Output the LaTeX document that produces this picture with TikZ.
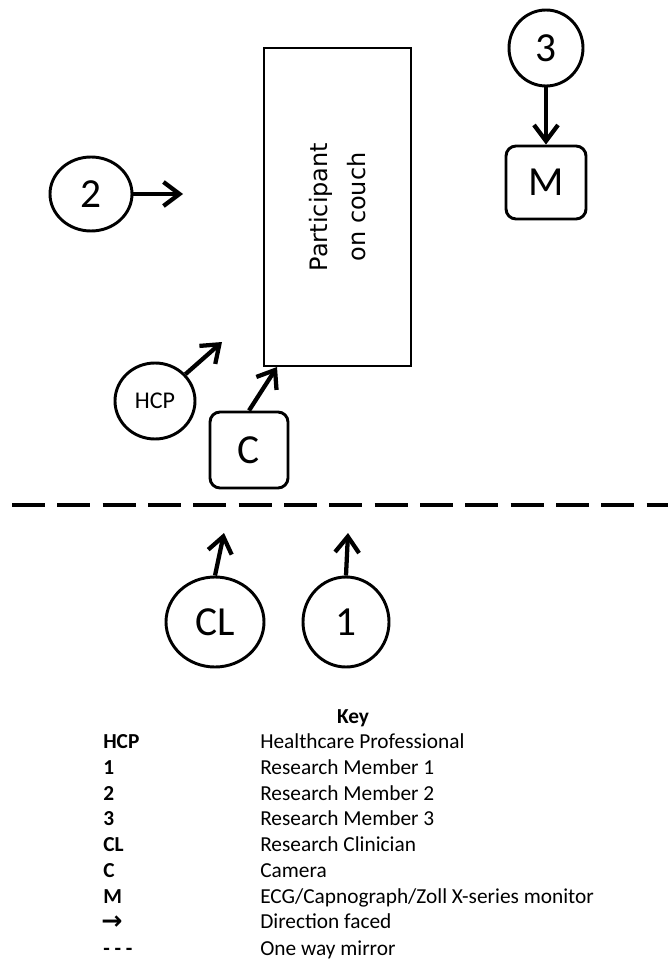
\documentclass[tikz,border=0pt]{standalone}
\usepackage{fontspec}
\setmainfont{Carlito}
\newfontfamily\dejavu{DejaVu Sans}
\usetikzlibrary{arrows.meta,shapes.geometric}
\begin{document}
\begin{tikzpicture}[x=0.75pt,y=-0.75pt,
  person/.style={ellipse,draw,line width=2.2pt,inner sep=0pt,font=\fontsize{31}{33}\selectfont},
  monbox/.style={rectangle,draw,line width=2.2pt,rounded corners=7.5pt,inner sep=0pt,font=\fontsize{31}{33}\selectfont},
  face/.style={line width=3.2pt,-{Straight Barb[length=12pt,width=18pt]}},
  keyitem/.style={anchor=base west,inner sep=0pt,font=\fontsize{16}{19}\selectfont},
  keysym/.style={anchor=base west,inner sep=0pt,font=\bfseries\fontsize{16}{19}\selectfont}]
\useasboundingbox (0,0) rectangle (668,962);

% couch
\node[draw,line width=1.9pt,minimum width=238.5pt,minimum height=110.25pt,inner sep=0pt,
      rotate=90,align=center,font=\dejavu\fontsize{18}{28}\selectfont] (couch) at (337.5,207)
      {Participant\\on couch};

% people and equipment
\node[person,minimum width=55.5pt,minimum height=57pt] (n3) at (546,48) {3};
\node[monbox,minimum width=60pt,minimum height=54.75pt] (m) at (546,182.5) {M};
\node[person,minimum width=61.5pt,minimum height=55.5pt] (n2) at (91,194) {2};
\node[person,minimum width=60pt,minimum height=57pt,font=\fontsize{18}{20}\selectfont] (hcp) at (155,401) {HCP};
\node[monbox,minimum width=58.5pt,minimum height=57pt] (c) at (249,450) {C};
\node[person,minimum width=73.5pt,minimum height=67.5pt] (cl) at (215,622) {CL};
\node[person,minimum width=64.5pt,minimum height=67.5pt] (n1) at (346,622) {1};

% facing directions
\coordinate (t2) at (183,194);
\coordinate (thcp) at (222,342);
\coordinate (tc) at (277,367);
\coordinate (tcl) at (224,533);
\coordinate (t1) at (348,533);
\draw[face] (n3.south) -- (m.north);
\draw[face] (n2) -- (t2);
\draw[face] (hcp) -- (thcp);
\draw[face] (c.north) -- (tc);
\draw[face] (cl.north) -- (tcl);
\draw[face] (n1.north) -- (t1);

% one way mirror
\coordinate (ml) at (12,505);
\coordinate (mr) at (668,505);
\draw[line width=3pt,dash pattern=on 24.75pt off 9.25pt] (ml) -- (mr);

% key
\node[anchor=base,inner sep=0pt,font=\bfseries\fontsize{16}{19}\selectfont] (keyt) at (353,723) {Key};
\node[keysym] (k1) at (103,748) {HCP};
\node[keyitem] (v1) at (260,748) {Healthcare Professional};
\node[keysym] (k2) at (103,774) {1};
\node[keyitem] (v2) at (260,774) {Research Member 1};
\node[keysym] (k3) at (103,800) {2};
\node[keyitem] (v3) at (260,800) {Research Member 2};
\node[keysym] (k4) at (103,825) {3};
\node[keyitem] (v4) at (260,825) {Research Member 3};
\node[keysym] (k5) at (103,851) {CL};
\node[keyitem] (v5) at (260,851) {Research Clinician};
\node[keysym] (k6) at (103,877) {C};
\node[keyitem] (v6) at (260,877) {Camera};
\node[keysym] (k7) at (103,903) {M};
\node[keyitem] (v7) at (260,903) {ECG/Capnograph/Zoll X-series monitor};
\node[keysym,font=\dejavu\bfseries\fontsize{19}{19}\selectfont] (k8) at (101,929) {→};
\node[keyitem] (v8) at (260,928) {Direction faced};
\node[keysym] (k9) at (103,955) {- - -};
\node[keyitem] (v9) at (260,955) {One way mirror};
\end{tikzpicture}
\end{document}
